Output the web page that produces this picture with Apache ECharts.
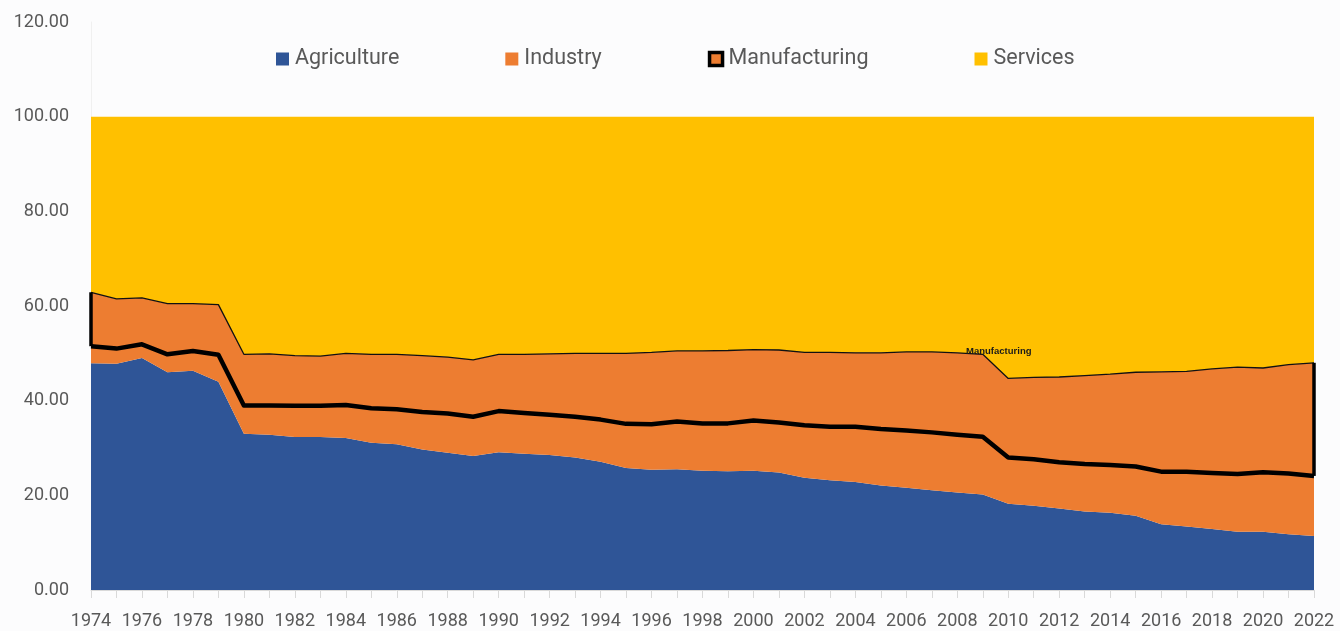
<!DOCTYPE html>
<html>
<head>
<meta charset="utf-8">
<script src="https://cdn.jsdelivr.net/npm/echarts@6/dist/echarts.min.js"></script>
<style>
  html, body { margin: 0; padding: 0; background: #fcfcfd; }
  #chart { width: 1340px; height: 631px; }
</style>
</head>
<body>
<div id="chart"></div>
<script>
const years = ['1974','1975','1976','1977','1978','1979','1980','1981','1982','1983',
  '1984','1985','1986','1987','1988','1989','1990','1991','1992','1993',
  '1994','1995','1996','1997','1998','1999','2000','2001','2002','2003',
  '2004','2005','2006','2007','2008','2009','2010','2011','2012','2013',
  '2014','2015','2016','2017','2018','2019','2020','2021','2022'];

const agriculture = [47.9, 47.8, 49.0, 46.0, 46.3, 44.0, 33.0, 32.8, 32.3, 32.3,
  32.1, 31.1, 30.8, 29.7, 29.0, 28.3, 29.1, 28.8, 28.5, 28.0,
  27.1, 25.8, 25.4, 25.5, 25.2, 25.1, 25.2, 24.8, 23.7, 23.2,
  22.8, 22.1, 21.6, 21.1, 20.6, 20.2, 18.2, 17.8, 17.2, 16.6,
  16.3, 15.7, 13.9, 13.4, 12.9, 12.3, 12.3, 11.8, 11.4];

const industry = [3.6, 3.2, 2.9, 3.8, 4.2, 5.7, 6.0, 6.2, 6.6, 6.6,
  7.0, 7.3, 7.4, 7.9, 8.3, 8.3, 8.7, 8.6, 8.5, 8.6,
  8.9, 9.3, 9.6, 10.1, 10.0, 10.1, 10.6, 10.6, 11.1, 11.3,
  11.7, 11.9, 12.1, 12.2, 12.2, 12.2, 9.8, 9.8, 9.8, 10.0,
  10.1, 10.4, 11.1, 11.6, 11.8, 12.2, 12.6, 12.8, 12.7];

const manufacturing = [11.4, 10.5, 9.8, 10.7, 10.0, 10.6, 10.8, 10.9, 10.6, 10.5,
  10.9, 11.4, 11.6, 11.9, 11.9, 12.0, 12.0, 12.4, 12.9, 13.4,
  14.0, 14.9, 15.2, 14.9, 15.3, 15.4, 15.0, 15.3, 15.4, 15.7,
  15.6, 16.1, 16.6, 17.0, 17.3, 17.4, 16.7, 17.3, 18.0, 18.7,
  19.2, 19.9, 21.1, 21.2, 22.0, 22.6, 22.0, 23.0, 23.9];

const services = [37.1, 38.5, 38.3, 39.5, 39.5, 39.7, 50.2, 50.1, 50.5, 50.6,
  50.0, 50.2, 50.2, 50.5, 50.8, 51.4, 50.2, 50.2, 50.1, 50.0,
  50.0, 50.0, 49.8, 49.5, 49.5, 49.4, 49.2, 49.3, 49.8, 49.8,
  49.9, 49.9, 49.7, 49.7, 49.9, 50.2, 55.3, 55.1, 55.0, 54.7,
  54.4, 54.0, 53.9, 53.8, 53.3, 52.9, 53.1, 52.4, 52.0];

const yTicks = [0, 20, 40, 60, 80, 100, 120];
const seriesNames = ['Agriculture', 'Industry', 'Manufacturing', 'Services'];
const labelYear = '2009';

const C_AGR = '#2f5597';
const C_IND = '#ed7d31';
const C_SER = '#ffc000';
const TXT = '#595959';
const FONT = 'Roboto';

// stacked levels used for the outline ends and the label
const lowerLevel = (i) => agriculture[i] + industry[i];
const upperLevel = (i) => agriculture[i] + industry[i] + manufacturing[i];
const first = 0, last = years.length - 1;
const li = years.indexOf(labelYear);

const chart = echarts.init(document.getElementById('chart'), null, { renderer: 'canvas' });

chart.setOption({
  backgroundColor: '#fcfcfd',
  animation: false,
  textStyle: { fontFamily: FONT },
  grid: { left: 91, right: 26, top: 22, bottom: 41, containLabel: false },
  legend: {
    left: 276,
    top: 48,
    padding: 0,
    itemWidth: 13,
    itemHeight: 13,
    itemGap: 106,
    icon: 'rect',
    selectedMode: false,
    textStyle: { color: TXT, fontSize: 21.5, fontFamily: FONT, padding: [0, 0, 0, 1] },
    data: [
      { name: seriesNames[0], itemStyle: { color: C_AGR, borderWidth: 0 } },
      { name: seriesNames[1], itemStyle: { color: C_IND, borderWidth: 0 } },
      { name: seriesNames[2], itemStyle: { color: C_IND, borderColor: '#000', borderWidth: 3.5 } },
      { name: seriesNames[3], itemStyle: { color: C_SER, borderWidth: 0 } }
    ]
  },
  xAxis: {
    type: 'category',
    data: years,
    boundaryGap: false,
    axisLine: { show: true, lineStyle: { color: '#d9d9d9', width: 1 } },
    axisTick: { show: true, alignWithLabel: true, interval: 0, length: 8, lineStyle: { color: '#d9d9d9' } },
    axisLabel: { interval: 1, color: TXT, fontSize: 18, fontFamily: FONT, margin: 22 },
    splitLine: { show: false }
  },
  yAxis: {
    type: 'value',
    min: yTicks[0],
    max: yTicks[yTicks.length - 1],
    interval: yTicks[1] - yTicks[0],
    axisLine: { show: true, lineStyle: { color: '#f0f0f0' } },
    axisTick: { show: false },
    splitLine: { show: false },
    axisLabel: {
      color: TXT, fontSize: 18, fontFamily: FONT, margin: 22,
      formatter: (v) => v.toFixed(2)
    }
  },
  series: [
    {
      name: seriesNames[0], type: 'line', stack: 'total', data: agriculture,
      symbol: 'none', showSymbol: false,
      itemStyle: { color: C_AGR },
      lineStyle: { width: 0 },
      areaStyle: { color: C_AGR, opacity: 1 },
      z: 2
    },
    {
      name: seriesNames[1], type: 'line', stack: 'total', data: industry,
      symbol: 'none', showSymbol: false,
      itemStyle: { color: C_IND },
      lineStyle: { width: 4.5, color: '#000', join: 'round' },
      areaStyle: { color: C_IND, opacity: 1 },
      z: 4
    },
    {
      name: seriesNames[2], type: 'line', stack: 'total', data: manufacturing,
      symbol: 'none', showSymbol: false,
      itemStyle: { color: C_IND },
      lineStyle: { width: 1.3, color: '#111' },
      areaStyle: { color: C_IND, opacity: 1 },
      z: 3,
      markLine: {
        silent: true,
        symbol: ['none', 'none'],
        label: { show: false },
        lineStyle: { color: '#000', width: 3.5, type: 'solid' },
        data: [
          [{ coord: [first, lowerLevel(first)] }, { coord: [first, upperLevel(first)] }],
          [{ coord: [last, lowerLevel(last)] }, { coord: [last, upperLevel(last)] }]
        ]
      },
      markPoint: {
        silent: true,
        symbol: 'circle',
        symbolSize: 1,
        itemStyle: { color: 'rgba(0,0,0,0)' },
        label: {
          show: true, position: 'inside', offset: [16, -3],
          formatter: seriesNames[2],
          fontSize: 9.5, fontWeight: 'bold', color: '#1a1a1a', fontFamily: 'Liberation Sans'
        },
        data: [{ coord: [li, upperLevel(li)] }]
      }
    },
    {
      name: seriesNames[3], type: 'line', stack: 'total', data: services,
      symbol: 'none', showSymbol: false,
      itemStyle: { color: C_SER },
      lineStyle: { width: 0 },
      areaStyle: { color: C_SER, opacity: 1 },
      z: 1
    }
  ]
});
</script>
</body>
</html>
